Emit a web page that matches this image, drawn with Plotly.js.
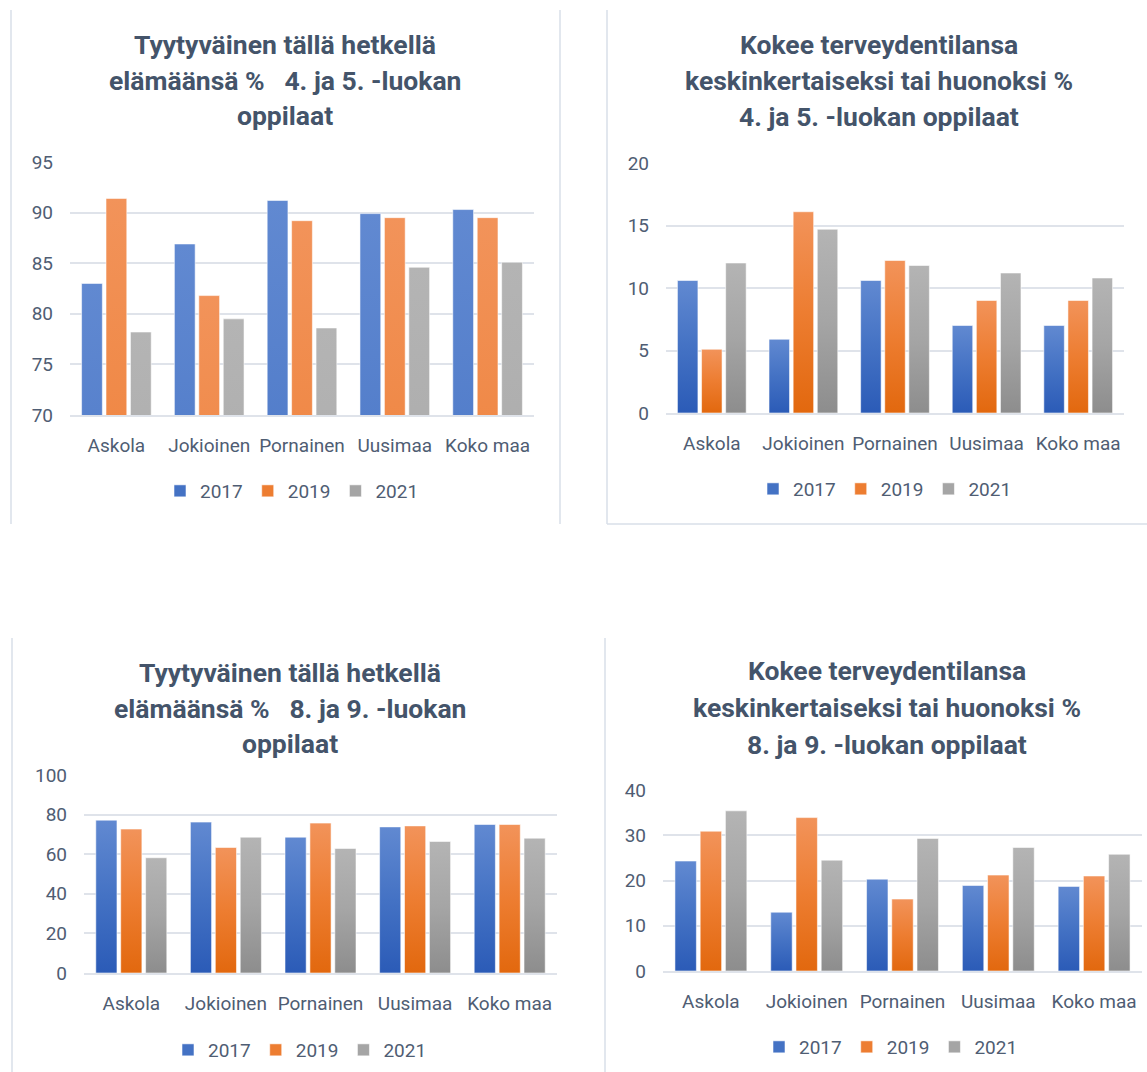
<!DOCTYPE html>
<html>
<head>
<meta charset="utf-8">
<script src="https://cdn.plot.ly/plotly-3.0.1.min.js"></script>
<style>html,body{margin:0;padding:0;background:#fff}#chart{width:1147px;height:1072px}</style>
</head>
<body>
<div id="chart"></div>
<script>
const categories = ["Askola", "Jokioinen", "Pornainen", "Uusimaa", "Koko maa"];
const years = ["2017", "2019", "2021"];

// Panel 1: Tyytyväinen, 4.-5. lk
const sat45_2017 = [83.0, 86.9, 91.2, 89.9, 90.3];
const sat45_2019 = [91.4, 81.8, 89.2, 89.5, 89.5];
const sat45_2021 = [78.2, 79.5, 78.6, 84.6, 85.1];
// Panel 2: Terveydentila, 4.-5. lk
const health45_2017 = [10.6, 5.9, 10.6, 7.0, 7.0];
const health45_2019 = [5.1, 16.1, 12.2, 9.0, 9.0];
const health45_2021 = [12.0, 14.7, 11.8, 11.2, 10.8];
// Panel 3: Tyytyväinen, 8.-9. lk
const sat89_2017 = [77.2, 76.2, 68.6, 73.8, 75.0];
const sat89_2019 = [72.7, 63.4, 75.7, 74.3, 75.0];
const sat89_2021 = [58.2, 68.6, 62.9, 66.4, 68.1];
// Panel 4: Terveydentila, 8.-9. lk
const health89_2017 = [24.3, 13.0, 20.3, 18.9, 18.7];
const health89_2019 = [30.9, 33.9, 15.9, 21.2, 21.0];
const health89_2021 = [35.4, 24.5, 29.3, 27.3, 25.8];

const title1 = ["Tyytyväinen tällä hetkellä", "elämäänsä %\u00a0\u00a0 4. ja 5. -luokan", "oppilaat"];
const title2 = ["Kokee terveydentilansa", "keskinkertaiseksi tai huonoksi %", "4. ja 5. -luokan oppilaat"];
const title3 = ["Tyytyväinen tällä hetkellä", "elämäänsä %\u00a0\u00a0 8. ja 9. -luokan", "oppilaat"];
const title4 = ["Kokee terveydentilansa", "keskinkertaiseksi tai huonoksi %", "8. ja 9. -luokan oppilaat"];

const colors = ["#4472c4", "#ed7d31", "#a5a5a5"];
const gradTop = ["#6189d1", "#f2935a", "#b4b4b4"];
const gradBottom = ["#2b5bb7", "#e2680e", "#8d8d8d"];
const FONT = 'Roboto, "Noto Sans", sans-serif';
const TICKCOL = "#4f5d73";
const TITLECOL = "#44546a";
const GRID = "#dfe3ea";

const W = 1147, H = 1072;
const px = v => v / W;
const py = v => 1 - v / H;

const panels = [
  {series: [sat45_2017, sat45_2019, sat45_2021], range: [70, 95], dtick: 5,
   x0: 70, x1: 534, y0: 162, y1: 415, title: title1, tcx: 285, tys: [45, 80, 115],
   lx: 292, ly: 491},
  {series: [health45_2017, health45_2019, health45_2021], range: [0, 20], dtick: 5,
   x0: 666, x1: 1124, y0: 163, y1: 413, title: title2, tcx: 879, tys: [45, 80, 116],
   lx: 885, ly: 489},
  {series: [sat89_2017, sat89_2019, sat89_2021], range: [0, 100], dtick: 20,
   x0: 84, x1: 557, y0: 775, y1: 973, title: title3, tcx: 290, tys: [672, 708, 743],
   lx: 300, ly: 1050},
  {series: [health89_2017, health89_2019, health89_2021], range: [0, 40], dtick: 10,
   x0: 663, x1: 1142, y0: 790, y1: 971, title: title4, tcx: 887, tys: [670, 707, 744],
   lx: 891, ly: 1047}
];

const data = [];
const layout = {
  width: W, height: H,
  margin: {l: 0, r: 0, t: 0, b: 0},
  paper_bgcolor: "#ffffff", plot_bgcolor: "rgba(0,0,0,0)",
  font: {family: FONT, color: TICKCOL, size: 19},
  barmode: "group", bargap: 0.21, bargroupgap: 0.15,
  annotations: [], shapes: []
};

panels.forEach((p, i) => {
  const n = i + 1;
  const xa = n === 1 ? "x" : "x" + n;
  const ya = n === 1 ? "y" : "y" + n;
  const lg = n === 1 ? "legend" : "legend" + n;
  p.series.forEach((vals, k) => {
    data.push({
      type: "bar", x: categories, y: vals, name: years[k],
      xaxis: xa, yaxis: ya, legend: lg,
      marker: {color: colors[k], line: {color: "rgba(255,255,255,0.55)", width: 1}},
      hoverinfo: "x+y+name"
    });
  });
  layout["xaxis" + (n === 1 ? "" : n)] = {
    domain: [px(p.x0), px(p.x1)], anchor: ya,
    showgrid: false, zeroline: false, showline: true, linecolor: GRID, linewidth: 2,
    ticks: "", ticklabelstandoff: 12,
    tickfont: {family: FONT, size: 19, color: TICKCOL}, fixedrange: true
  };
  layout["yaxis" + (n === 1 ? "" : n)] = {
    domain: [py(p.y1), py(p.y0)], anchor: xa,
    range: p.range, dtick: p.dtick, tick0: 0,
    showgrid: true, gridcolor: GRID, gridwidth: 2, zeroline: false, showline: false,
    ticks: "", ticklabelstandoff: 16,
    tickfont: {family: FONT, size: 19, color: TICKCOL}, fixedrange: true
  };
  layout[lg] = {
    orientation: "h", x: px(p.lx), y: py(p.ly), xanchor: "center", yanchor: "middle",
    font: {family: FONT, size: 19, color: TICKCOL}, bgcolor: "rgba(0,0,0,0)",
    itemwidth: 30, traceorder: "normal"
  };
  p.title.forEach((line, j) => {
    layout.annotations.push({
      xref: "paper", yref: "paper", x: px(p.tcx), y: py(p.tys[j]),
      xanchor: "center", yanchor: "middle", showarrow: false,
      text: "<b>" + line + "</b>",
      font: {family: FONT, size: 26.5, color: TITLECOL}
    });
  });
});

const BORDER = "#d9dfe8";
const borders = [
  [11, 10, 11, 524], [560, 10, 560, 524],
  [607, 10, 607, 524], [607, 524, 1147, 524],
  [12, 638, 12, 1072], [605, 638, 605, 1072]
];
borders.forEach(b => {
  layout.shapes.push({type: "line", xref: "paper", yref: "paper",
    x0: px(b[0]), y0: py(b[1]), x1: px(b[2]), y1: py(b[3]),
    line: {color: BORDER, width: 1.5}, layer: "below"});
});

function applyGradients(gd) {
  const svg = gd.querySelector(".main-svg");
  if (!svg) return;
  const NS = "http://www.w3.org/2000/svg";
  let defs = svg.querySelector("defs");
  if (!defs) { defs = document.createElementNS(NS, "defs"); svg.insertBefore(defs, svg.firstChild); }
  colors.forEach((c, k) => {
    const lg = document.createElementNS(NS, "linearGradient");
    lg.setAttribute("id", "barGrad" + k);
    lg.setAttribute("x1", "0"); lg.setAttribute("y1", "0");
    lg.setAttribute("x2", "0"); lg.setAttribute("y2", "1");
    [[0, gradTop[k]], [0.5, colors[k]], [1, gradBottom[k]]].forEach(s => {
      const st = document.createElementNS(NS, "stop");
      st.setAttribute("offset", s[0]);
      st.setAttribute("stop-color", s[1]);
      lg.appendChild(st);
    });
    defs.appendChild(lg);
  });
  const traces = gd.querySelectorAll(".barlayer .trace");
  traces.forEach(t => {
    const d = t.__data__;
    const idx = d && d[0] && d[0].trace ? d[0].trace.index : null;
    if (idx === null) return;
    const k = idx % 3;
    t.querySelectorAll("path").forEach(p => { p.style.fill = "url(#barGrad" + k + ")"; });
  });
}

Plotly.newPlot("chart", data, layout, {displayModeBar: false, staticPlot: true})
  .then(gd => applyGradients(gd));
</script>
</body>
</html>
